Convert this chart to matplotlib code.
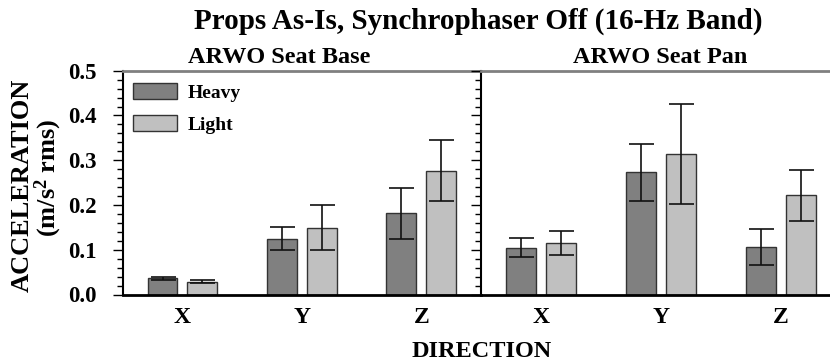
import matplotlib
matplotlib.use("Agg")
import matplotlib.pyplot as plt
from matplotlib.ticker import MultipleLocator
import numpy as np

# Direction categories and series values (mean, error half-width)
directions = ["X", "Y", "Z"]
series_names = ["Heavy", "Light"]

base_heavy = [0.036, 0.125, 0.181]
base_heavy_err = [0.004, 0.026, 0.057]
base_light = [0.029, 0.149, 0.277]
base_light_err = [0.004, 0.050, 0.069]

pan_heavy = [0.105, 0.273, 0.106]
pan_heavy_err = [0.021, 0.063, 0.040]
pan_light = [0.115, 0.314, 0.222]
pan_light_err = [0.027, 0.112, 0.057]

y_ticks = [0.0, 0.1, 0.2, 0.3, 0.4, 0.5]

plt.rcParams["font.family"] = ["Liberation Serif", "DejaVu Serif"]
plt.rcParams["font.weight"] = "bold"
plt.rcParams["mathtext.fontset"] = "custom"
plt.rcParams["mathtext.rm"] = "Liberation Serif:bold"
plt.rcParams["mathtext.it"] = "Liberation Serif:bold"
plt.rcParams["mathtext.bf"] = "Liberation Serif:bold"

W, H = 830, 364
fig = plt.figure(figsize=(W / 100, H / 100), dpi=100)


def fx(px):
    return px / W


def fy(py):
    return 1 - py / H


ax_top, ax_bot = 70.7, 294.5
ax_base = fig.add_axes([fx(122.7), fy(ax_bot), fx(481 - 122.7), (ax_bot - ax_top) / H])
ax_pan = fig.add_axes([fx(481), fy(ax_bot), fx(360), (ax_bot - ax_top) / H])

heavy_color = "#808080"
light_color = "#c0c0c0"
offset = 1 / 6
bw = 0.25
err_kw = dict(elinewidth=1.2, capthick=1.2, ecolor="#111111")

x = np.arange(len(directions))


def draw_panel(ax, heavy, heavy_err, light, light_err):
    h = ax.bar(x - offset, heavy, bw, yerr=heavy_err, capsize=9, color=heavy_color,
               edgecolor="#333333", linewidth=1.0, error_kw=err_kw, label=series_names[0])
    l = ax.bar(x + offset, light, bw, yerr=light_err, capsize=9, color=light_color,
               edgecolor="#333333", linewidth=1.0, error_kw=err_kw, label=series_names[1])
    ax.set_xlim(-0.5, 2.5)
    ax.set_ylim(0, 0.5)
    ax.set_xticks(x)
    ax.set_xticklabels(directions, fontsize=17, fontweight="bold")
    ax.tick_params(axis="x", length=0, pad=9)
    ax.set_yticks(y_ticks)
    ax.yaxis.set_minor_locator(MultipleLocator(0.02))
    ax.tick_params(axis="y", which="major", direction="out", length=7, width=1.0)
    ax.tick_params(axis="y", which="minor", direction="out", length=4, width=1.0)
    ax.spines["top"].set_color("#808080")
    ax.spines["top"].set_linewidth(2)
    ax.spines["bottom"].set_color("black")
    ax.spines["bottom"].set_linewidth(2)
    ax.spines["left"].set_linewidth(1.5)
    ax.spines["right"].set_visible(False)
    return h, l


h, l = draw_panel(ax_base, base_heavy, base_heavy_err, base_light, base_light_err)
draw_panel(ax_pan, pan_heavy, pan_heavy_err, pan_light, pan_light_err)

ax_base.set_yticklabels([f"{v:.1f}" for v in y_ticks], fontsize=16.5, fontweight="bold")
ax_base.tick_params(axis="y", which="major", pad=12)
ax_pan.tick_params(axis="y", labelleft=False)
ax_pan.set_zorder(ax_base.get_zorder() + 1)
ax_pan.patch.set_alpha(0)

# Legend
ax_base.legend(handles=[h, l], labels=series_names, loc="upper left",
               bbox_to_anchor=(fx(133), fy(83)), bbox_transform=fig.transFigure,
               frameon=False, borderpad=0, borderaxespad=0,
               handlelength=2.27, handleheight=0.88, handletextpad=0.55,
               labelspacing=0.68, prop=dict(size=14, weight="bold"))

# Titles and axis labels
fig.text(fx(478), fy(29), "Props As-Is, Synchrophaser Off (16-Hz Band)",
         ha="center", va="baseline", fontsize=21, fontweight="bold")
fig.text(fx(279), fy(63), "ARWO Seat Base", ha="center", va="baseline",
         fontsize=17.5, fontweight="bold")
fig.text(fx(660), fy(63), "ARWO Seat Pan", ha="center", va="baseline",
         fontsize=17.5, fontweight="bold")
fig.text(fx(22), fy(185), "ACCELERATION", ha="center", va="center",
         rotation=90, fontsize=19, fontweight="bold")
fig.text(fx(48), fy(177.5), "(m/s$^{2}$ rms)", ha="center", va="center",
         rotation=90, fontsize=19, fontweight="bold")
fig.text(fx(482), fy(357), "DIRECTION", ha="center", va="baseline",
         fontsize=17.5, fontweight="bold")

fig.savefig("out.png", dpi=100)
